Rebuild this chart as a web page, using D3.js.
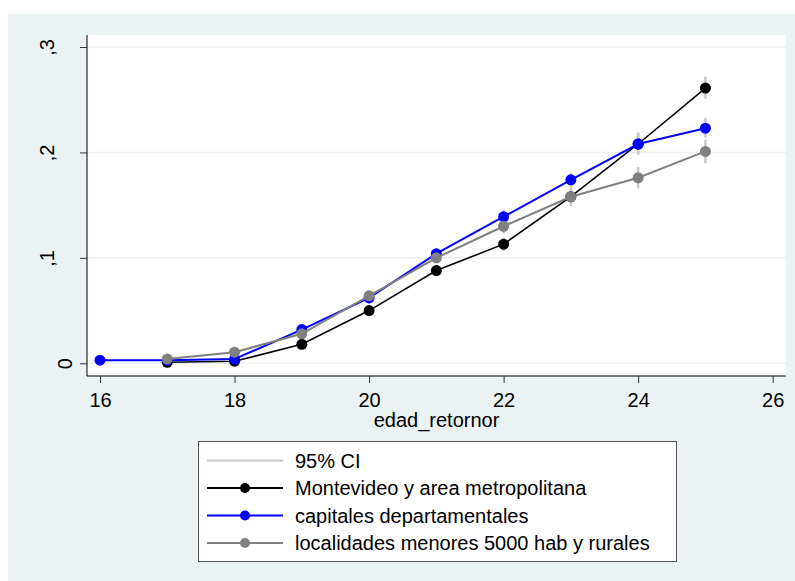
<!DOCTYPE html>
<html>
<head>
<meta charset="utf-8">
<script src="https://d3js.org/d3.v7.min.js"></script>
<style>
  body { margin: 0; background: #ffffff; }
  text { font-family: "Liberation Sans", Arial, sans-serif; }
</style>
</head>
<body>
<div id="chart"></div>
<script>
// chart data
const ages = [16, 17, 18, 19, 20, 21, 22, 23, 24, 25];
const montevideo = [null, 0.001, 0.002, 0.018, 0.050, 0.088, 0.113, 0.158, 0.208, 0.261];
const montevideoLo = [null, 0.000, 0.000, 0.015, 0.046, 0.083, 0.107, 0.152, 0.198, 0.251];
const montevideoHi = [null, 0.003, 0.005, 0.021, 0.054, 0.093, 0.119, 0.164, 0.218, 0.272];
const capitales = [0.003, 0.003, 0.004, 0.032, 0.062, 0.104, 0.139, 0.174, 0.208, 0.223];
const capitalesLo = [0.001, 0.001, 0.002, 0.028, 0.057, 0.099, 0.132, 0.167, 0.198, 0.214];
const capitalesHi = [0.005, 0.005, 0.006, 0.036, 0.067, 0.109, 0.146, 0.181, 0.219, 0.233];
const localidades = [null, 0.004, 0.0105, 0.028, 0.064, 0.100, 0.130, 0.158, 0.176, 0.201];
const localidadesLo = [null, 0.002, 0.007, 0.024, 0.059, 0.095, 0.123, 0.149, 0.166, 0.190];
const localidadesHi = [null, 0.006, 0.014, 0.032, 0.069, 0.105, 0.137, 0.167, 0.186, 0.212];
const xTicks = [16, 18, 20, 22, 24, 26];
const yTicks = [0, 0.1, 0.2, 0.3];
const legendLabels = ["95% CI", "Montevideo y area metropolitana", "capitales departamentales", "localidades menores 5000 hab y rurales"];

const width = 795, height = 581;
const margin = {left: 87, right: 9, top: 35, bottom: 205};

const svg = d3.select("#chart")
    .append("svg")
    .attr("width", width)
    .attr("height", height);

// outer background
svg.append("rect")
    .attr("x", 8).attr("y", 14)
    .attr("width", width - 8).attr("height", height - 14)
    .attr("fill", "#eaf2f3");

// plot area
svg.append("rect")
    .attr("x", margin.left).attr("y", margin.top)
    .attr("width", width - margin.right - margin.left)
    .attr("height", height - margin.bottom - margin.top)
    .attr("fill", "#ffffff");

const xScale = d3.scaleLinear()
    .domain([16, 26])
    .range([100, 772.7]);

const yScale = d3.scaleLinear()
    .domain([0, 0.3])
    .range([363.3, 47]);

// gridlines
svg.append("g")
    .selectAll("line")
    .data(yTicks)
    .enter()
    .append("line")
      .attr("x1", margin.left)
      .attr("x2", width - margin.right)
      .attr("y1", d => yScale(d))
      .attr("y2", d => yScale(d))
      .attr("stroke", "#eaf2f3")
      .attr("stroke-width", 1.5);

// y axis
const yAxis = svg.append("g")
    .attr("transform", `translate(${margin.left}, 0)`)
    .call(d3.axisLeft(yScale)
          .tickValues(yTicks)
          .tickSize(7)
          .tickPadding(0)
          .tickFormat(d => d === 0 ? "0" : d3.format(".1f")(d).replace("0.", ",")));
yAxis.select(".domain")
    .attr("d", `M0,${margin.top}V${height - margin.bottom}`)
    .attr("stroke", "#000");
yAxis.selectAll(".tick line").attr("stroke", "#333");
yAxis.selectAll(".tick text")
    .attr("transform", d => `translate(${d === 0 ? -22 : -40},0) rotate(-90)`)
    .attr("x", 0).attr("dy", "0.35em")
    .attr("text-anchor", "middle")
    .attr("font-size", "20px")
    .attr("fill", "#000");

// x axis
const xAxis = svg.append("g")
    .attr("transform", `translate(0, ${height - margin.bottom})`)
    .call(d3.axisBottom(xScale)
          .tickValues(xTicks)
          .tickSize(7)
          .tickPadding(10));
xAxis.select(".domain")
    .attr("d", `M${margin.left},0H${width - margin.right}`)
    .attr("stroke", "#000");
xAxis.selectAll(".tick line").attr("stroke", "#333");
xAxis.selectAll(".tick text")
    .attr("font-size", "20px")
    .attr("fill", "#000");

svg.append("text")
    .attr("x", (margin.left + width - margin.right) / 2)
    .attr("y", 427)
    .attr("text-anchor", "middle")
    .attr("font-size", "20px")
    .text("edad_retornor");

// series
const series = [
  {vals: montevideo, lo: montevideoLo, hi: montevideoHi, color: "#000000", width: 1.6},
  {vals: capitales, lo: capitalesLo, hi: capitalesHi, color: "#0000ff", width: 2},
  {vals: localidades, lo: localidadesLo, hi: localidadesHi, color: "#808080", width: 2}
];

// confidence intervals
series.forEach(s => {
  svg.append("g")
    .selectAll("line")
    .data(ages.map((a, i) => ({a: a, lo: s.lo[i], hi: s.hi[i]})).filter(d => d.lo != null))
    .enter()
    .append("line")
      .attr("x1", d => xScale(d.a))
      .attr("x2", d => xScale(d.a))
      .attr("y1", d => yScale(d.lo))
      .attr("y2", d => yScale(d.hi))
      .attr("stroke", "#c8c8c8")
      .attr("stroke-width", 2.5);
});

const line = d3.line()
    .defined(d => d.v != null)
    .x(d => xScale(d.a))
    .y(d => yScale(d.v));

series.forEach(s => {
  const pts = ages.map((a, i) => ({a: a, v: s.vals[i]}));
  svg.append("path")
    .datum(pts)
    .attr("fill", "none")
    .attr("stroke", s.color)
    .attr("stroke-width", s.width)
    .attr("d", line);
  svg.append("g")
    .selectAll("circle")
    .data(pts.filter(d => d.v != null))
    .enter()
    .append("circle")
      .attr("cx", d => xScale(d.a))
      .attr("cy", d => yScale(d.v))
      .attr("r", 5.5)
      .attr("fill", s.color);
});

// legend
const legend = svg.append("g");
legend.append("rect")
    .attr("x", 198.5).attr("y", 441.5)
    .attr("width", 478).attr("height", 120)
    .attr("fill", "#ffffff")
    .attr("stroke", "#555")
    .attr("stroke-width", 1);

const legendColors = ["#c8c8c8", "#000000", "#0000ff", "#808080"];
legendLabels.forEach((lab, i) => {
  const y = 460.5 + i * 27.5;
  legend.append("line")
    .attr("x1", 207).attr("x2", 283)
    .attr("y1", y).attr("y2", y)
    .attr("stroke", legendColors[i])
    .attr("stroke-width", 2);
  if (i > 0) {
    legend.append("circle")
      .attr("cx", 245).attr("cy", y)
      .attr("r", 5)
      .attr("fill", legendColors[i]);
  }
  legend.append("text")
    .attr("x", 295).attr("y", y)
    .attr("dy", "0.35em")
    .attr("font-size", "20px")
    .text(lab);
});
</script>
</body>
</html>
